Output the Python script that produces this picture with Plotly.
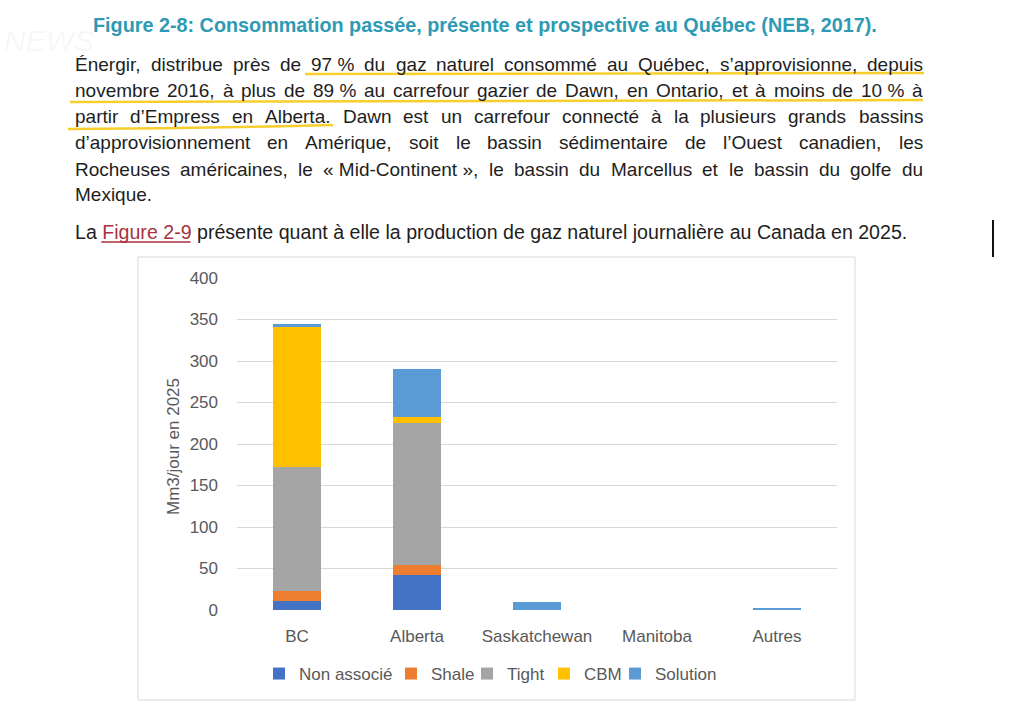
import plotly.graph_objects as go

W, H = 1017, 706


def px(x):
    return x / W


def py(y):
    return 1 - y / H


# ---------------- data ----------------
categories = ["BC", "Alberta", "Saskatchewan", "Manitoba", "Autres"]
non_associe = [11, 42, 0, 0, 1]
shale = [12, 12, 0, 0, 0]
tight = [149, 171, 0, 0, 0]
cbm = [169, 8, 0, 0, 0]
solution = [3.5, 57, 10, 0, 1]
y_ticks = [0, 50, 100, 150, 200, 250, 300, 350, 400]

series_names = ["Non associé", "Shale", "Tight", "CBM", "Solution"]
series_colors = ["#4472C4", "#ED7D31", "#A5A5A5", "#FFC000", "#5B9BD5"]
series_values = [non_associe, shale, tight, cbm, solution]

y_title = "Mm3/jour en 2025"
title_text = "Figure 2-8: Consommation passée, présente et prospective au Québec (NEB, 2017)."
paragraph_lines = [
    "Énergir, distribue près de 97\u00a0% du gaz naturel consommé au Québec, s’approvisionne, depuis",
    "novembre 2016, à plus de 89\u00a0% au carrefour gazier de Dawn, en Ontario, et à moins de 10\u00a0% à",
    "partir d’Empress en Alberta. Dawn est un carrefour connecté à la plusieurs grands bassins",
    "d’approvisionnement en Amérique, soit le bassin sédimentaire de l’Ouest canadien, les",
    "Rocheuses américaines, le «\u00a0Mid-Continent\u00a0», le bassin du Marcellus et le bassin du golfe du",
    "Mexique.",
]
last_prefix = "La "
last_link = "Figure 2-9"
last_rest = " présente quant à elle la production de gaz naturel journalière au Canada en 2025."

# ---------------- text metrics (Arial / Liberation Sans) ----------------
CW = {" ": 278, "\u00a0": 278, "!": 278, "%": 889, "'": 191, "(": 333, ")": 333, ",": 278,
      "-": 333, ".": 278, "/": 278, ":": 278, ";": 278, "’": 222, "«": 556, "»": 556,
      "A": 667, "B": 667, "C": 722, "D": 722, "E": 667, "F": 611, "G": 778, "H": 722,
      "I": 278, "J": 500, "K": 667, "L": 556, "M": 833, "N": 722, "O": 778, "P": 667,
      "Q": 778, "R": 722, "S": 667, "T": 611, "U": 722, "V": 667, "W": 944, "X": 667,
      "Y": 667, "Z": 611, "É": 667,
      "a": 556, "b": 556, "c": 500, "d": 556, "e": 556, "f": 278, "g": 556, "h": 556,
      "i": 222, "j": 222, "k": 500, "l": 222, "m": 833, "n": 556, "o": 556, "p": 556,
      "q": 556, "r": 333, "s": 500, "t": 278, "u": 556, "v": 500, "w": 722, "x": 500,
      "y": 500, "z": 500, "é": 556, "è": 556, "ê": 556, "à": 556, "â": 556, "ç": 500}


def tw(s, size):
    return sum(CW.get(c, 556) for c in s) * size / 1000.0


BODY_FONT = "Liberation Sans"
BODY_SIZE = 19
LAST_SIZE = 19.6
BODY_COLOR = "#1E1E1E"
X_LEFT, X_RIGHT = 74, 922
line_y = [64, 90, 116, 143, 169, 195]
last_y = 232

annotations = []
shapes = []

# watermark
annotations.append(dict(x=px(2), y=py(40), xref="paper", yref="paper", xanchor="left",
                        yanchor="middle", showarrow=False, text="<i>NEWS</i>",
                        font=dict(family=BODY_FONT, size=30, color="rgba(0,0,0,0.05)")))

# title
annotations.append(dict(x=px(485), y=py(25), xref="paper", yref="paper", xanchor="center",
                        yanchor="middle", showarrow=False, text="<b>" + title_text + "</b>",
                        font=dict(family=BODY_FONT, size=19.8, color="#2E9AB4")))

# justified paragraph
for i, line in enumerate(paragraph_lines):
    words = line.split(" ")
    justify = i < len(paragraph_lines) - 1
    widths = [tw(w, BODY_SIZE) for w in words]
    if justify and len(words) > 1:
        gap = (X_RIGHT - X_LEFT - sum(widths)) / (len(words) - 1)
    else:
        gap = tw(" ", BODY_SIZE)
    x = X_LEFT
    for w, wd in zip(words, widths):
        annotations.append(dict(x=px(x), y=py(line_y[i]), xref="paper", yref="paper",
                                xanchor="left", yanchor="middle", showarrow=False, text=w,
                                borderpad=0,
                                font=dict(family=BODY_FONT, size=BODY_SIZE, color=BODY_COLOR)))
        x += wd + gap

# last line with link
annotations.append(dict(x=px(X_LEFT), y=py(last_y), xref="paper", yref="paper",
                        xanchor="left", yanchor="middle", showarrow=False, borderpad=0,
                        text=last_prefix + "<span style='color:#A8323E'>" + last_link + "</span>" + last_rest,
                        font=dict(family=BODY_FONT, size=LAST_SIZE, color=BODY_COLOR)))
lx0 = X_LEFT + tw(last_prefix, LAST_SIZE)
lx1 = lx0 + tw(last_link, LAST_SIZE)
shapes.append(dict(type="line", xref="paper", yref="paper", x0=px(lx0), x1=px(lx1),
                   y0=py(242), y1=py(242), line=dict(color="#A8323E", width=1.5)))

# yellow highlight underlines
HL = "#F6CF2F"
shapes.append(dict(type="line", xref="paper", yref="paper", x0=px(305), x1=px(924),
                   y0=py(74), y1=py(73), line=dict(color=HL, width=2.5)))
shapes.append(dict(type="line", xref="paper", yref="paper", x0=px(70), x1=px(923),
                   y0=py(102), y1=py(100), line=dict(color=HL, width=2.5)))
shapes.append(dict(type="path", xref="paper", yref="paper",
                   path=f"M {px(68)},{py(129)} Q {px(200)},{py(128.5)} {px(333)},{py(125)}",
                   line=dict(color=HL, width=2.5)))

# cursor bar
shapes.append(dict(type="line", xref="paper", yref="paper", x0=px(993), x1=px(993),
                   y0=py(220), y1=py(257), line=dict(color="#111111", width=2)))

# chart frame
shapes.append(dict(type="rect", xref="paper", yref="paper", x0=px(138), x1=px(855),
                   y0=py(700), y1=py(257), line=dict(color="#D9D9D9", width=1),
                   fillcolor="rgba(0,0,0,0)", layer="below"))

# y axis title
annotations.append(dict(x=px(173), y=py(447), xref="paper", yref="paper", xanchor="center",
                        yanchor="middle", showarrow=False, text=y_title, textangle=-90,
                        font=dict(family=BODY_FONT, size=17, color="#595959")))

# ---------------- traces ----------------
legend_text_x = [297, 429, 505, 582, 653]
fig = go.Figure()
for k, (name, color, vals) in enumerate(zip(series_names, series_colors, series_values)):
    lg = "legend" if k == 0 else f"legend{k + 1}"
    fig.add_trace(go.Bar(x=categories, y=vals, name=name, marker=dict(color=color, line=dict(width=0)),
                         legend=lg))

legend_common = dict(orientation="h", xanchor="left", yanchor="middle", y=py(674),
                     font=dict(family=BODY_FONT, size=17, color="#595959"),
                     itemwidth=30, bgcolor="rgba(0,0,0,0)", borderwidth=0)
legend_layout = {}
for k, lx in enumerate(legend_text_x):
    key = "legend" if k == 0 else f"legend{k + 1}"
    legend_layout[key] = dict(legend_common, x=px(lx - 38))

fig.update_layout(
    width=W, height=H,
    margin=dict(l=0, r=0, t=0, b=0, pad=0, autoexpand=False),
    paper_bgcolor="white", plot_bgcolor="white",
    barmode="stack", bargap=0.6,
    showlegend=True,
    xaxis=dict(domain=[px(237), px(837)], showgrid=False, showline=False, ticks="",
               tickfont=dict(family=BODY_FONT, size=17, color="#595959"),
               ticklabelstandoff=14, zeroline=False, automargin=False),
    yaxis=dict(domain=[py(610), py(278)], range=[0, 400], tickvals=y_ticks,
               showgrid=True, gridcolor="#D9D9D9", gridwidth=1, zeroline=False, showline=False,
               ticks="", tickfont=dict(family=BODY_FONT, size=17, color="#595959"),
               ticklabelstandoff=18, automargin=False),
    annotations=annotations,
    shapes=shapes,
    **legend_layout,
)

fig.write_html("out.html", config={"displayModeBar": False},
               post_script="document.body.style.margin='0';document.body.style.overflow='hidden';")
